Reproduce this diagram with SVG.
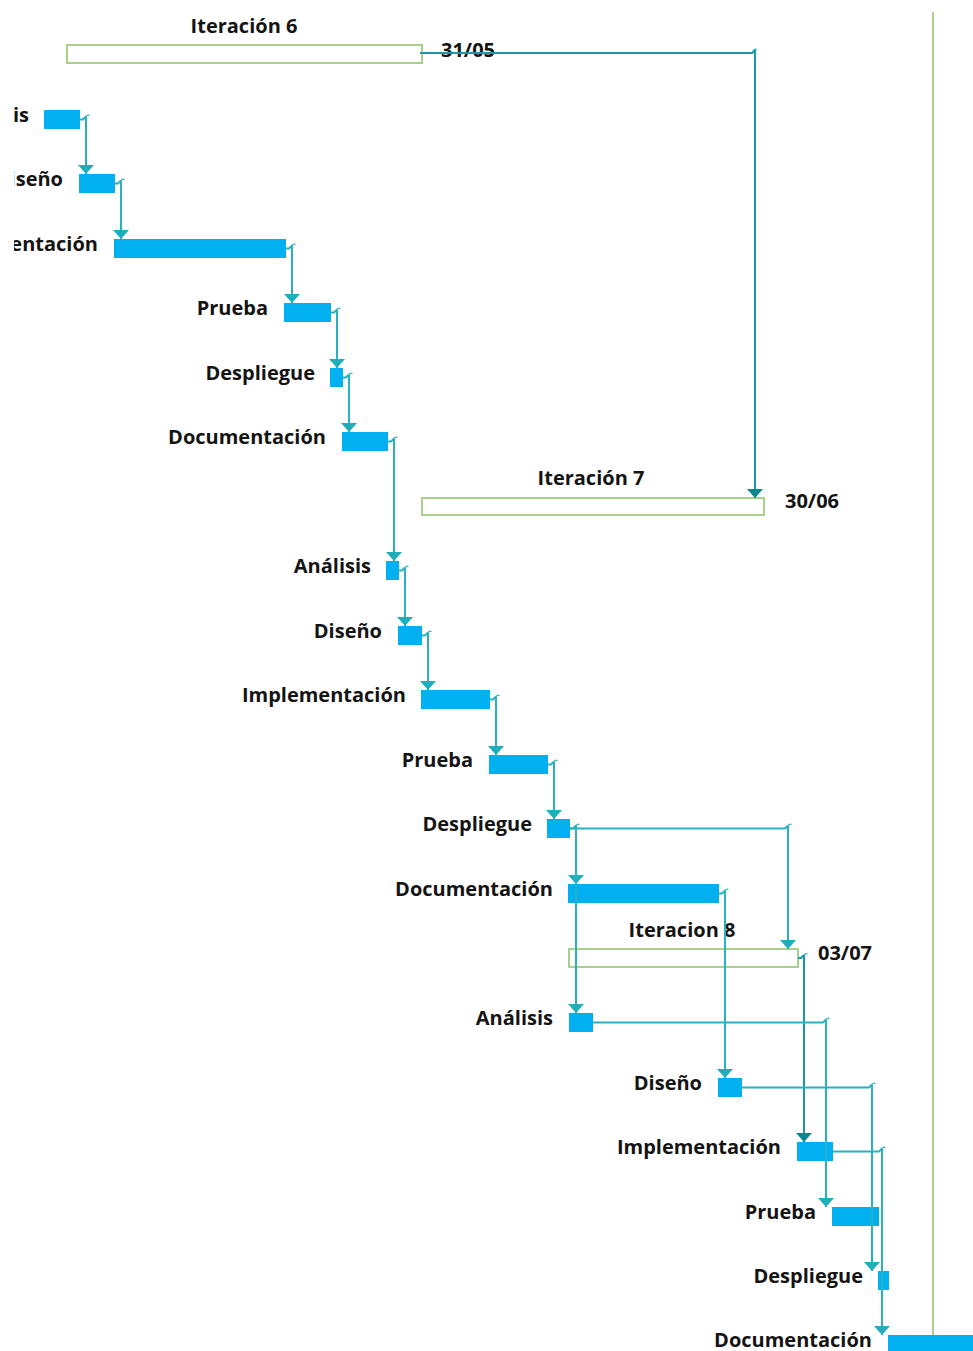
<svg xmlns="http://www.w3.org/2000/svg" width="973" height="1351" viewBox="0 0 973 1351">
  <style>
    .bar { fill: #00B0F0; }
    .sum { fill: #ffffff; stroke: #A9D18E; stroke-width: 2; }
    .lbl { font-family: "Open Sans", "Noto Sans", "Liberation Sans", sans-serif; font-weight: bold; font-size: 20px; fill: #141414; text-anchor: end; }
    .ttl { font-family: "Open Sans", "Noto Sans", "Liberation Sans", sans-serif; font-weight: bold; font-size: 20px; fill: #141414; text-anchor: middle; }
    .date { font-family: "Open Sans", "Noto Sans", "Liberation Sans", sans-serif; font-weight: bold; font-size: 20px; fill: #141414; }
    .link { fill: none; stroke: #29B1BF; stroke-width: 2; marker-end: url(#arr); }
    .link-d { fill: none; stroke: #1899A5; stroke-width: 2; marker-end: url(#arr-d); }
    .hook { fill: none; stroke: #29B1BF; stroke-width: 1.3; }
    .today { stroke: #A9D18E; stroke-width: 2; }
  </style>
  <defs>
    <marker id="arr" viewBox="0 0 9 16" refX="9" refY="8" markerWidth="9" markerHeight="16" markerUnits="userSpaceOnUse" orient="auto">
      <path d="M0 0 L9 8 L0 16 z" fill="#20AEBB"/>
    </marker>
    <marker id="arr-d" viewBox="0 0 9 16" refX="9" refY="8" markerWidth="9" markerHeight="16" markerUnits="userSpaceOnUse" orient="auto">
      <path d="M0 0 L9 8 L0 16 z" fill="#0C878F"/>
    </marker>
    <!-- chart area starts a little right of the window edge -->
    <clipPath id="chart">
      <rect x="14" y="0" width="959" height="1351"/>
    </clipPath>
  </defs>

  <rect width="973" height="1351" fill="#ffffff"/>

  <!-- status date line -->
  <line class="today" x1="933" y1="12" x2="933" y2="1351"/>

  <!-- summary bars -->
  <g id="iteracion-6">
    <rect class="sum" x="67" y="45" width="355" height="18"/>
    <text class="ttl" x="244" y="33">Iteración 6</text>
    <text class="date" x="441" y="57">31/05</text>
  </g>
  <g id="iteracion-7">
    <rect class="sum" x="422" y="498" width="342" height="17"/>
    <text class="ttl" x="591" y="485">Iteración 7</text>
    <text class="date" x="785" y="508">30/06</text>
  </g>
  <g id="iteracion-8">
    <rect class="sum" x="569" y="949" width="229" height="18"/>
    <text class="ttl" x="682" y="937">Iteracion 8</text>
    <text class="date" x="818" y="960">03/07</text>
  </g>

  <!-- tasks -->
  <g clip-path="url(#chart)">
    <g id="t1"><rect class="bar" x="44" y="110" width="36" height="19"/><text class="lbl" x="29" y="122">Análisis</text></g>
    <g id="t2"><rect class="bar" x="79" y="174" width="36" height="19"/><text class="lbl" x="63" y="186">Diseño</text></g>
    <g id="t3"><rect class="bar" x="114" y="239" width="172" height="19"/><text class="lbl" x="98" y="251">Implementación</text></g>
  </g>
  <g id="t4"><rect class="bar" x="284" y="303" width="47" height="19"/><text class="lbl" x="268" y="315">Prueba</text></g>
  <g id="t5"><rect class="bar" x="330" y="368" width="13" height="19"/><text class="lbl" x="315" y="380">Despliegue</text></g>
  <g id="t6"><rect class="bar" x="342" y="432" width="46" height="19"/><text class="lbl" x="326" y="444">Documentación</text></g>
  <g id="t7"><rect class="bar" x="386" y="561" width="13" height="19"/><text class="lbl" x="371" y="573">Análisis</text></g>
  <g id="t8"><rect class="bar" x="398" y="626" width="24" height="19"/><text class="lbl" x="382" y="638">Diseño</text></g>
  <g id="t9"><rect class="bar" x="421" y="690" width="69" height="19"/><text class="lbl" x="406" y="702">Implementación</text></g>
  <g id="t10"><rect class="bar" x="489" y="755" width="59" height="19"/><text class="lbl" x="473" y="767">Prueba</text></g>
  <g id="t11"><rect class="bar" x="547" y="819" width="23" height="19"/><text class="lbl" x="532" y="831">Despliegue</text></g>
  <g id="t12"><rect class="bar" x="568" y="884" width="151" height="19"/><text class="lbl" x="553" y="896">Documentación</text></g>
  <g id="t13"><rect class="bar" x="569" y="1013" width="24" height="19"/><text class="lbl" x="553" y="1025">Análisis</text></g>
  <g id="t14"><rect class="bar" x="718" y="1078" width="24" height="19"/><text class="lbl" x="702" y="1090">Diseño</text></g>
  <g id="t15"><rect class="bar" x="797" y="1142" width="36" height="19"/><text class="lbl" x="781" y="1154">Implementación</text></g>
  <g id="t16"><rect class="bar" x="832" y="1207" width="47" height="19"/><text class="lbl" x="816" y="1219">Prueba</text></g>
  <g id="t17"><rect class="bar" x="878" y="1271" width="11" height="19"/><text class="lbl" x="863" y="1283">Despliegue</text></g>
  <g id="t18"><rect class="bar" x="888" y="1335" width="90" height="19"/><text class="lbl" x="872" y="1347">Documentación</text></g>

  <!-- finish-to-start links: horizontal run, small hook, drop to successor -->
  <g id="links">
    <path class="link-d" d="M420 53 H752 L755 50 M755 50 V498"/>
    <path class="link" d="M80 119.5 H83 L86 116.5 M86 116.5 V174"/>
    <path class="link" d="M115 183.5 H118 L121 180.5 M121 180.5 V239"/>
    <path class="link" d="M286 248.5 H289 L292 245.5 M292 245.5 V303"/>
    <path class="link" d="M331 312.5 H334 L337 309.5 M337 309.5 V368"/>
    <path class="link" d="M343 377.5 H346 L349 374.5 M349 374.5 V432"/>
    <path class="link" d="M388 441.5 H391 L394 438.5 M394 438.5 V561"/>
    <path class="link" d="M399 570.5 H402 L405 567.5 M405 567.5 V626"/>
    <path class="link" d="M422 635.5 H425 L428 632.5 M428 632.5 V690"/>
    <path class="link" d="M490 699.5 H493 L496 696.5 M496 696.5 V755"/>
    <path class="link" d="M548 764.5 H551 L554 761.5 M554 761.5 V819"/>
    <path class="link" d="M570 828.5 H573 L576 825.5 M576 825.5 V884"/>
    <path class="link" d="M576 825.5 V1013"/>
    <path class="link" d="M570 828.5 H785 L788 825.5 M788 825.5 V949"/>
    <path class="link" d="M719 893.5 H722 L725 890.5 M725 890.5 V1078"/>
    <path class="link-d" d="M798 958 H801 L804 955 M804 955 V1142"/>
    <path class="link" d="M593 1022.5 H823 L826 1019.5 M826 1019.5 V1207"/>
    <path class="link" d="M742 1087.5 H869 L872 1084.5 M872 1084.5 V1271"/>
    <path class="link" d="M833 1151.5 H879 L882 1148.5 M882 1148.5 V1335"/>
  </g>

  <!-- little curls where each link leaves its bar -->
  <g id="hooks">
    <path class="hook" d="M753 50.5 q2 -2 4 -1 M86 116.5 q2 -2 3.5 -1 M121 180.5 q2 -2 3.5 -1 M292 245.5 q2 -2 3.5 -1 M337 309.5 q2 -2 3.5 -1 M349 374.5 q2 -2 3.5 -1 M394 438.5 q2 -2 3.5 -1 M405 567.5 q2 -2 3.5 -1 M428 632.5 q2 -2 3.5 -1 M496 696.5 q2 -2 3.5 -1 M554 761.5 q2 -2 3.5 -1 M576 825.5 q2 -2 3.5 -1 M788 825.5 q2 -2 3.5 -1 M725 890.5 q2 -2 3.5 -1 M804 955 q2 -2 3.5 -1 M826 1019.5 q2 -2 3.5 -1 M872 1084.5 q2 -2 3.5 -1 M882 1148.5 q2 -2 3.5 -1"/>
  </g>
</svg>
